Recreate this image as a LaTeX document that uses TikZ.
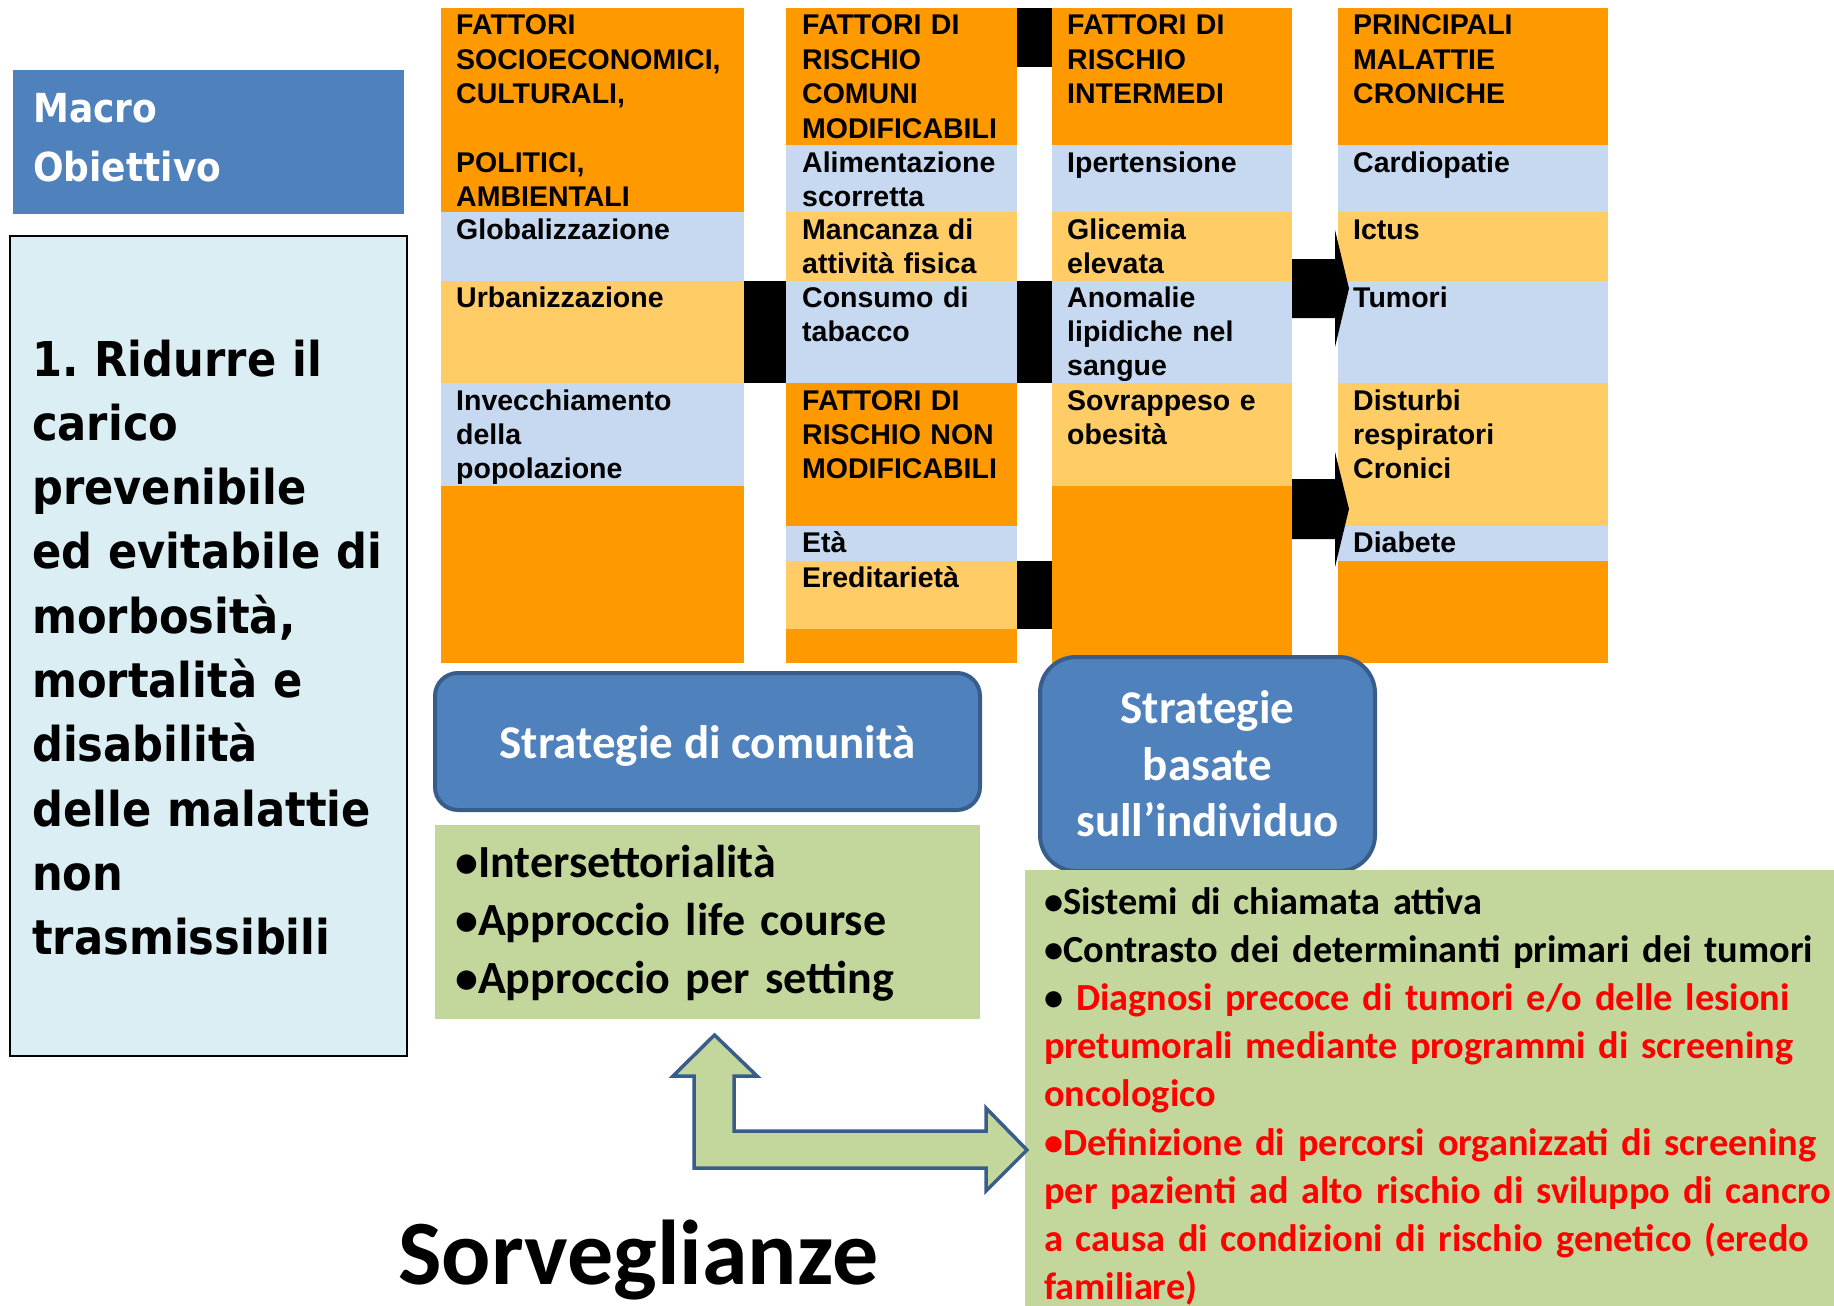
\documentclass[tikz,border=0pt]{standalone}
\usepackage{fontspec}
\setmainfont{Liberation Sans}
\newfontfamily\cellfont{Liberation Sans}
\newfontfamily\widefont{DejaVu Sans}[FakeStretch=0.9]
\newfontfamily\calfont{Carlito}
\usepackage{tikz}

\definecolor{orangec}{RGB}{255,153,0}
\definecolor{lorange}{RGB}{255,204,102}
\definecolor{lblue}{RGB}{198,217,241}
\definecolor{boxblue}{RGB}{79,129,189}
\definecolor{edgeblue}{RGB}{56,93,138}
\definecolor{paleblue}{RGB}{219,238,243}
\definecolor{sage}{RGB}{195,214,155}
\definecolor{redtxt}{RGB}{255,0,0}

\begin{document}
\begin{tikzpicture}[x=1pt,y=-1pt,
  cell/.style={anchor=base west,inner sep=0pt,align=left,text width=300pt,
    font=\cellfont\bfseries\fontsize{28.5}{34.4}\selectfont},
  strat/.style={draw=edgeblue,line width=4pt,fill=boxblue,text=white,align=center,
    font=\calfont\bfseries\fontsize{47}{56.5}\selectfont},
  listtext/.style={anchor=base west,inner sep=0pt,align=left,text width=900pt},
  plainbox/.style={anchor=north west,inner sep=0pt}]
  \path[use as bounding box] (0,0) rectangle (1834,1306);
  \clip (0,0) rectangle (1834,1306);

  % macro obiettivo
  \node[plainbox,fill=boxblue,minimum width=391pt,minimum height=144pt] (macro) at (13,70) {};
  \node[anchor=base west,inner sep=0pt,text width=360pt,align=left,text=white,
    font=\widefont\bfseries\fontsize{40}{59}\selectfont] (macro_txt) at (33,122) {Macro\\Obiettivo};
  \node[plainbox,draw=black,line width=2pt,fill=paleblue,minimum width=397pt,minimum height=820pt] (obj) at (9,235) {};
  \node[anchor=base west,inner sep=0pt,text width=390pt,align=left,
    font=\widefont\bfseries\fontsize{48}{64.3}\selectfont] (obj_txt) at (32,376)
    {1.\ Ridurre il\\carico\\prevenibile\\ed evitabile di\\morbosità,\\mortalità e\\disabilità\\delle malattie\\non\\trasmissibili};

  % columns
  \fill[orangec] (441,8) rectangle (744,663);
  \fill[lblue]   (441,212) rectangle (744,281);
  \fill[lorange] (441,281) rectangle (744,383);
  \fill[lblue]   (441,383) rectangle (744,486);

  \fill[orangec] (786,8) rectangle (1017,663);
  \fill[lblue]   (786,145) rectangle (1017,212);
  \fill[lorange] (786,212) rectangle (1017,281);
  \fill[lblue]   (786,281) rectangle (1017,383);
  \fill[lblue]   (786,526) rectangle (1017,561);
  \fill[lorange] (786,561) rectangle (1017,629);

  \fill[orangec] (1052,8) rectangle (1292,663);
  \fill[lblue]   (1052,145) rectangle (1292,212);
  \fill[lorange] (1052,212) rectangle (1292,281);
  \fill[lblue]   (1052,281) rectangle (1292,383);
  \fill[lorange] (1052,383) rectangle (1292,486);

  \fill[orangec] (1338,8) rectangle (1608,663);
  \fill[lblue]   (1338,145) rectangle (1608,212);
  \fill[lorange] (1338,212) rectangle (1608,281);
  \fill[lblue]   (1338,281) rectangle (1608,383);
  \fill[lorange] (1338,383) rectangle (1608,526);
  \fill[lblue]   (1338,526) rectangle (1608,561);

  % black bars and arrows
  \fill[black] (744,281) rectangle (786,383);
  \fill[black] (1017,8) rectangle (1052,67);
  \fill[black] (1017,281) rectangle (1052,383);
  \fill[black] (1017,561) rectangle (1052,629);
  \fill[black] (1292,259) -- (1335,259) -- (1335,230) -- (1349,288.5) -- (1335,347) -- (1335,318) -- (1292,318) -- cycle;
  \fill[black] (1292,479) -- (1335,479) -- (1335,452) -- (1349,509) -- (1335,567) -- (1335,539) -- (1292,539) -- cycle;

  % cell texts
  \node[cell] (c1_head) at (456,35)  {FATTORI\\SOCIOECONOMICI,\\CULTURALI,\\[34.4pt]POLITICI,\\AMBIENTALI};
  \node[cell] (c1_glob) at (456,239) {Globalizzazione};
  \node[cell] (c1_urb)  at (456,307) {Urbanizzazione};
  \node[cell] (c1_inv)  at (456,410) {Invecchiamento\\della\\popolazione};

  \node[cell] (c2_head) at (802,35)  {FATTORI DI\\RISCHIO\\COMUNI\\MODIFICABILI};
  \node[cell] (c2_alim) at (802,172) {Alimentazione\\scorretta};
  \node[cell] (c2_fis)  at (802,239) {Mancanza di\\attività fisica};
  \node[cell] (c2_tab)  at (802,307) {Consumo di\\tabacco};
  \node[cell] (c2_non)  at (802,410) {FATTORI DI\\RISCHIO NON\\MODIFICABILI};
  \node[cell] (c2_eta)  at (802,552) {Età};
  \node[cell] (c2_ered) at (802,587) {Ereditarietà};

  \node[cell] (c3_head) at (1067,35)  {FATTORI DI\\RISCHIO\\INTERMEDI};
  \node[cell] (c3_iper) at (1067,172) {Ipertensione};
  \node[cell] (c3_glic) at (1067,239) {Glicemia\\elevata};
  \node[cell] (c3_lip)  at (1067,307) {Anomalie\\lipidiche nel\\sangue};
  \node[cell] (c3_obes) at (1067,410) {Sovrappeso e\\obesità};

  \node[cell] (c4_head) at (1353,35)  {PRINCIPALI\\MALATTIE\\CRONICHE};
  \node[cell] (c4_card) at (1353,172) {Cardiopatie};
  \node[cell] (c4_ict)  at (1353,239) {Ictus};
  \node[cell] (c4_tum)  at (1353,307) {Tumori};
  \node[cell] (c4_resp) at (1353,410) {Disturbi\\respiratori\\Cronici};
  \node[cell] (c4_diab) at (1353,552) {Diabete};

  % strategie
  \node[strat,rounded corners=23pt,minimum width=545pt,minimum height=137pt,
    text height=33pt,text depth=0pt] (comm) at (707.5,741.5) {Strategie di comunità};
  \node[strat,rounded corners=36pt,minimum width=335pt,minimum height=214pt] (indiv) at (1207.5,764) {Strategie\\basate\\sull’individuo};

  \node[plainbox,fill=sage,minimum width=545pt,minimum height=194pt] (comm_box) at (435,825) {};
  \node[listtext,font=\calfont\bfseries\fontsize{46}{58}\selectfont] (comm_list) at (455,877)
    {•Intersettorialità\\•Approccio life course\\•Approccio per setting};

  \node[plainbox,fill=sage,minimum width=820pt,minimum height=450pt] (indiv_box) at (1025,870) {};
  \node[listtext,font=\calfont\bfseries\fontsize{38.3}{48.2}\selectfont] (indiv_list) at (1044,914)
    {•Sistemi di chiamata attiva\\
     •Contrasto dei determinanti primari dei tumori\\
     • \textcolor{redtxt}{Diagnosi precoce di tumori e/o delle lesioni}\\
     \textcolor{redtxt}{pretumorali mediante programmi di screening}\\
     \textcolor{redtxt}{oncologico}\\
     \textcolor{redtxt}{•Definizione di percorsi organizzati di screening}\\
     \textcolor{redtxt}{per pazienti ad alto rischio di sviluppo di cancro}\\
     \textcolor{redtxt}{a causa di condizioni di rischio genetico (eredo}\\
     \textcolor{redtxt}{familiare)}};

  % sorveglianze
  \coordinate (up_tip) at (714.5,1035);
  \coordinate (right_tip) at (1027,1150);
  \draw[edgeblue,fill=sage,line width=3.5pt] (up_tip) -- (757,1076) -- (734,1076) -- (734,1131) -- (986,1131)
    -- (986,1108) -- (right_tip) -- (986,1191) -- (986,1168) -- (694,1168) -- (694,1076) -- (673,1076) -- cycle;
  \node[anchor=base west,inner sep=0pt,font=\calfont\bfseries\fontsize{92}{110}\selectfont] (surv) at (398,1284) {Sorveglianze};
\end{tikzpicture}
\end{document}
